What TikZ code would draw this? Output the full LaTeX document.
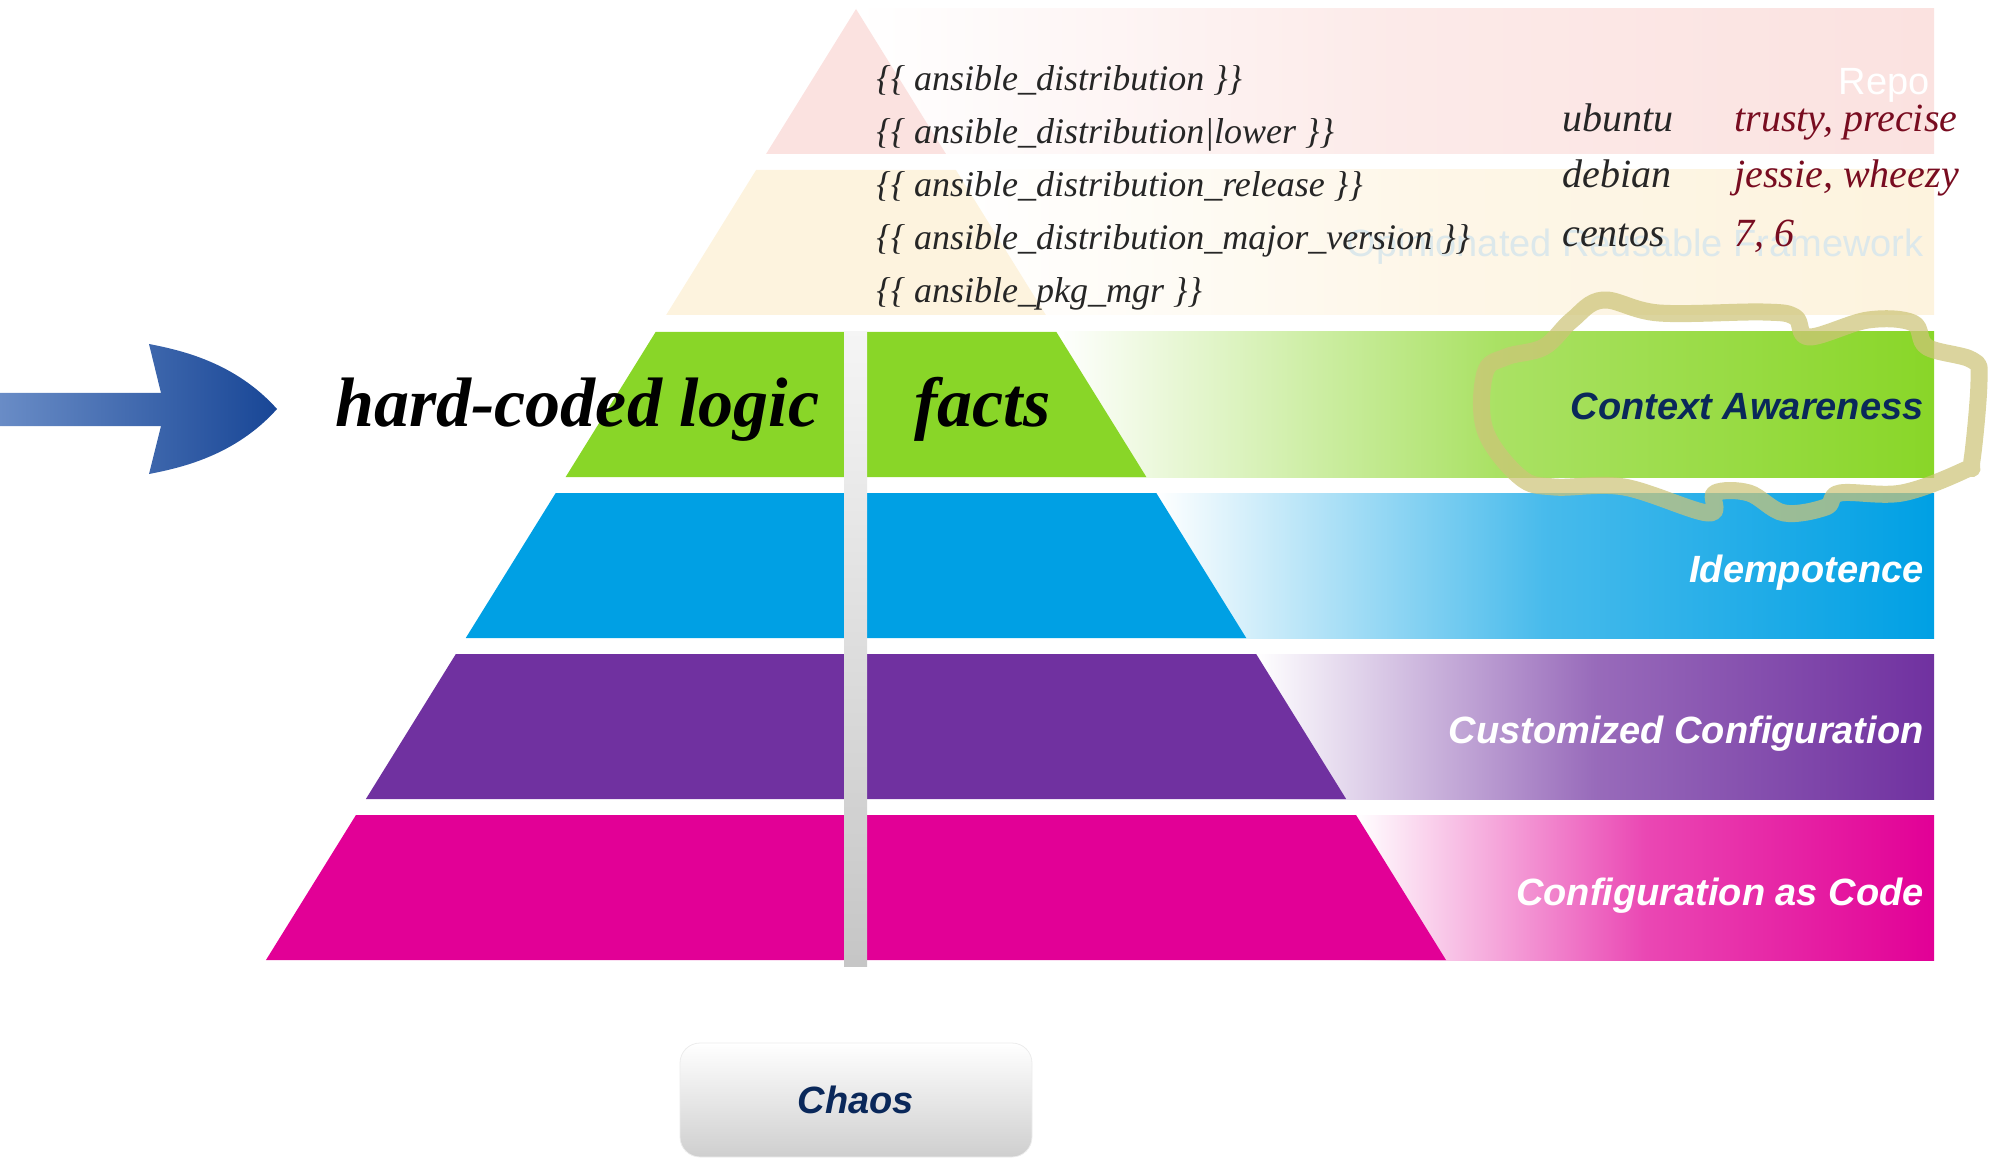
\documentclass[tikz,border=0pt]{standalone}
\usepackage{fontspec}
\setmainfont{Liberation Serif}
\setsansfont{Liberation Sans}
\usetikzlibrary{positioning}
\definecolor{pinkband}{RGB}{251,226,224}
\definecolor{yellowband}{RGB}{253,243,222}
\definecolor{greenband}{RGB}{137,214,40}
\definecolor{blueband}{RGB}{0,160,228}
\definecolor{purpleband}{RGB}{112,49,160}
\definecolor{magentaband}{RGB}{226,0,150}
\definecolor{navytext}{RGB}{10,40,90}
\definecolor{distrored}{RGB}{120,12,32}
\definecolor{hiliter}{RGB}{205,196,120}
\definecolor{faintlabel}{RGB}{220,232,235}
\definecolor{arrowlight}{RGB}{105,140,198}
\definecolor{arrowdark}{RGB}{24,70,150}

\begin{document}
\begin{tikzpicture}[x=0.5pt,y=-0.5pt]
\tikzset{level/.style = {font=\sffamily\bfseries\itshape\fontsize{19}{19}\selectfont, text=white, anchor=base east, inner sep=0}}
\tikzset{faint/.style = {level, font=\sffamily\fontsize{19}{19}\selectfont}}
\tikzset{code/.style = {font=\itshape\fontsize{18}{18}\selectfont, text=black!85, anchor=base west, inner sep=0}}
\tikzset{distname/.style = {code, font=\itshape\fontsize{20}{20}\selectfont}}
\tikzset{big/.style = {font=\bfseries\itshape\fontsize{35}{35}\selectfont, anchor=base west, inner sep=0}}
\tikzset{hilite/.style = {line width=8.5pt, hiliter, opacity=0.72, line join=round}}
\tikzset{chaosbtn/.style = {rounded corners=10pt, top color=white, bottom color=gray!38, draw=gray!15, minimum width=176pt, minimum height=57pt, font=\sffamily\bfseries\itshape\fontsize{19}{19}\selectfont, text=navytext}}
\useasboundingbox (0,0) rectangle (1996,1160);
\foreach \ya/\col in {9/pinkband, 170/yellowband, 332/greenband, 493/blueband, 654/purpleband, 815/magentaband} {
  \pgfmathsetmacro{\yb}{\ya+145}
  \pgfmathsetmacro{\la}{856-0.6204*(\ya-9)}
  \pgfmathsetmacro{\ra}{856+0.6204*(\ya-9)}
  \pgfmathsetmacro{\lb}{856-0.6204*(\yb-9)}
  \pgfmathsetmacro{\rb}{856+0.6204*(\yb-9)}
  \shade[left color=white, right color=\col, middle color=\col!72] (\ra,\ya) rectangle (1934,\yb);
  \fill[\col] (\la,\ya) -- (\ra,\ya) -- (\rb,\yb) -- (\lb,\yb) -- cycle;
}
\shade[top color=gray!8, bottom color=gray!45] (844,332) rectangle (867,966);
\node[faint] (repo) at (1930,95) {Repo};
\node[faint, text=faintlabel] (framework) at (1924,257) {Opinionated Reusable Framework};
\node[level, text=navytext] (aware) at (1924,420) {Context Awareness};
\node[level] (idem) at (1924,582) {Idempotence};
\node[level] (custom) at (1924,743) {Customized Configuration};
\node[level] (cac) at (1924,905) {Configuration as Code};
\node[code] (fact1) at (876,91) {\{\{ ansible\_distribution \}\}};
\node[code] (fact2) at (876,144) {\{\{ ansible\_distribution|lower \}\}};
\node[code] (fact3) at (876,197) {\{\{ ansible\_distribution\_release \}\}};
\node[code] (fact4) at (876,250) {\{\{ ansible\_distribution\_major\_version \}\}};
\node[code] (fact5) at (876,303) {\{\{ ansible\_pkg\_mgr \}\}};
\node[distname] (ubuntu) at (1562,132) {ubuntu};
\node[distname] (debian) at (1562,188) {debian};
\node[distname] (centos) at (1562,247) {centos};
\node[distname, text=distrored] (trusty) at (1734,132) {trusty, precise};
\node[distname, text=distrored] (jessie) at (1734,188) {jessie, wheezy};
\node[distname, text=distrored] (seven) at (1734,247) {7, 6};
\node[big] (hardcoded) at (335,427) {hard-coded logic};
\node[big] (facts) at (914,427) {facts};
\shade[left color=arrowlight, right color=arrowdark] (0,393) -- (161,393) -- (149,344) .. controls (180,350) and (235,362) .. (277,409) .. controls (235,456) and (180,468) .. (149,474) -- (161,426) -- (0,426) -- cycle;
\draw[hilite] plot[smooth cycle, tension=0.6] coordinates {(1603,300) (1659,313) (1763,312) (1795,317) (1809,337) (1868,320) (1913,323) (1927,347) (1972,360) (1979,380) (1972,460) (1965,470) (1902,493) (1840,493) (1826,507) (1784,513) (1749,493) (1715,493) (1708,513) (1624,487) (1554,487) (1520,477) (1485,430) (1485,373) (1506,357) (1544,347) (1572,320)};
\node[chaosbtn] (chaos) at (856,1100) {Chaos};
\end{tikzpicture}
\end{document}
